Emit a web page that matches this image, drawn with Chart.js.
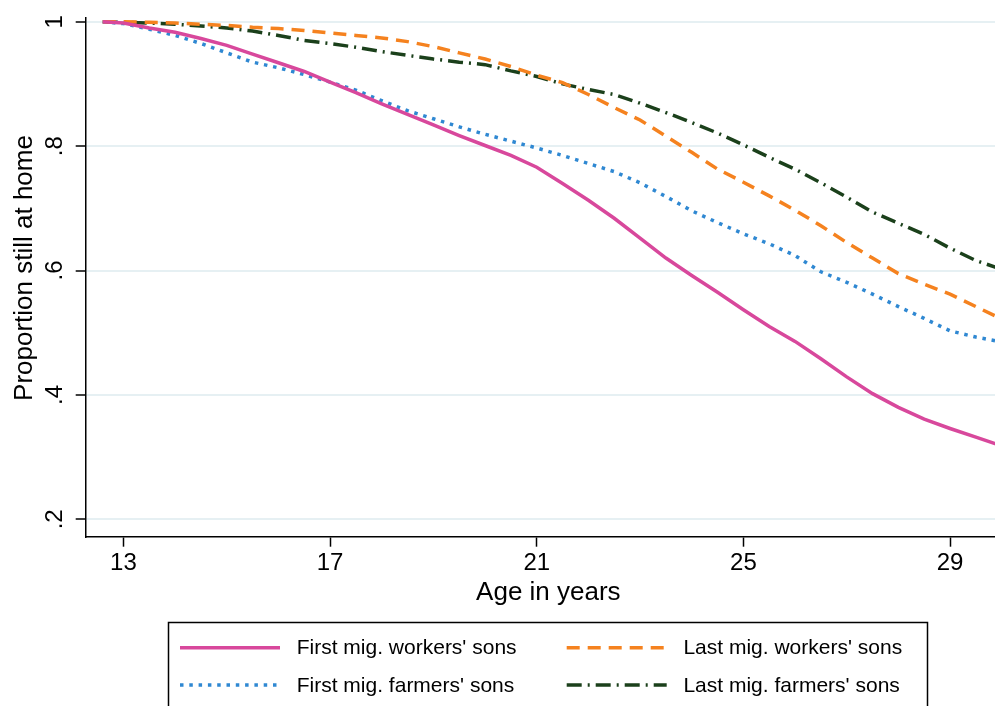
<!DOCTYPE html>
<html>
<head>
<meta charset="utf-8">
<title>Proportion still at home</title>
<script src="https://cdn.jsdelivr.net/npm/chart.js@4.4.1/dist/chart.umd.min.js"></script>
<style>
  html, body { margin: 0; padding: 0; background: #fff; overflow: hidden; }
  #marco { width: 1020px; height: 706px; }
</style>
</head>
<body>
<div id="marco"><canvas id="grafico"></canvas></div>
<script>
const ages = [12.6, 13, 13.5, 14, 14.5, 15, 15.5, 16, 16.5, 17, 17.5, 18, 18.5, 19, 19.5, 20, 20.5, 21,
  21.5, 22, 22.5, 23, 23.5, 24, 24.5, 25, 25.5, 26, 26.5, 27, 27.5, 28, 28.5, 29, 29.5, 30];

const firstWorkers = [1.000, 0.998, 0.990, 0.983, 0.973, 0.962, 0.948, 0.934, 0.920, 0.903, 0.886, 0.868,
  0.851, 0.834, 0.817, 0.801, 0.785, 0.766, 0.740, 0.713, 0.684, 0.652, 0.620, 0.592, 0.565, 0.537,
  0.510, 0.486, 0.458, 0.429, 0.402, 0.380, 0.361, 0.346, 0.332, 0.318];

const lastWorkers = [1.000, 1.000, 0.999, 0.998, 0.996, 0.994, 0.991, 0.989, 0.986, 0.982, 0.978, 0.974,
  0.968, 0.960, 0.950, 0.940, 0.928, 0.914, 0.902, 0.883, 0.862, 0.842, 0.816, 0.790, 0.763, 0.742,
  0.720, 0.697, 0.672, 0.645, 0.620, 0.595, 0.578, 0.562, 0.542, 0.522];

const firstFarmers = [1.000, 0.997, 0.988, 0.978, 0.965, 0.950, 0.935, 0.926, 0.915, 0.903, 0.890, 0.873,
  0.857, 0.844, 0.831, 0.819, 0.808, 0.797, 0.785, 0.772, 0.759, 0.741, 0.719, 0.696, 0.677, 0.659,
  0.643, 0.624, 0.598, 0.581, 0.562, 0.542, 0.523, 0.503, 0.493, 0.485];

const lastFarmers = [1.000, 0.999, 0.998, 0.996, 0.993, 0.990, 0.985, 0.978, 0.970, 0.965, 0.959, 0.952,
  0.946, 0.940, 0.935, 0.931, 0.921, 0.912, 0.900, 0.891, 0.883, 0.869, 0.854, 0.838, 0.821, 0.802,
  0.782, 0.763, 0.741, 0.718, 0.694, 0.676, 0.658, 0.636, 0.616, 0.602];

const seriesNames = ["First mig. workers' sons", "Last mig. workers' sons",
  "First mig. farmers' sons", "Last mig. farmers' sons"];

const xTicks = [13, 17, 21, 25, 29];
const yTicks = [0.2, 0.4, 0.6, 0.8, 1];

const fuente = '"Liberation Sans", Arial, Helvetica, sans-serif';

function puntos(valores) {
  return ages.map((a, i) => ({ x: a, y: valores[i] }));
}

function etiquetaY(v) {
  // Stata style: 1, .8, .6 ...
  return v === 1 ? '1' : String(v).replace(/^0/, '');
}

// texts around the plot and the legend box, stata like
const textos = {
  id: 'textos',
  afterDraw(chart) {
    const ctx = chart.ctx;
    const area = chart.chartArea;
    const escalaY = chart.scales.y;
    ctx.save();
    ctx.fillStyle = '#000';
    ctx.textAlign = 'center';
    ctx.textBaseline = 'alphabetic';

    // y tick labels, rotated
    ctx.font = '24px ' + fuente;
    yTicks.forEach(v => {
      ctx.save();
      ctx.translate(61.5, escalaY.getPixelForValue(v));
      ctx.rotate(-Math.PI / 2);
      ctx.fillText(etiquetaY(v), 0, 0);
      ctx.restore();
    });

    // axis titles
    ctx.font = '26px ' + fuente;
    ctx.save();
    ctx.translate(32, 268);
    ctx.rotate(-Math.PI / 2);
    ctx.fillText('Proportion still at home', 0, 0);
    ctx.restore();
    ctx.fillText('Age in years', (area.left + area.right) / 2, 600);

    // legend
    ctx.strokeStyle = '#000';
    ctx.lineWidth = 1.5;
    ctx.strokeRect(168.5, 622.5, 759, 100);
    const columnas = [180, 566.7];
    const filas = [647.7, 685];
    ctx.font = '21px ' + fuente;
    ctx.textAlign = 'left';
    ctx.textBaseline = 'middle';
    chart.data.datasets.forEach((ds, i) => {
      const cx = columnas[i % 2];
      const cy = filas[Math.floor(i / 2)];
      ctx.save();
      ctx.strokeStyle = ds.borderColor;
      ctx.lineWidth = ds.borderWidth;
      ctx.setLineDash(ds.borderDash || []);
      ctx.beginPath();
      ctx.moveTo(cx, cy);
      ctx.lineTo(cx + 100, cy);
      ctx.stroke();
      ctx.restore();
      ctx.fillText(ds.label, cx + 116.7, cy + 1);
    });
    ctx.restore();
  }
};

const datasets = [
  { label: seriesNames[0], data: puntos(firstWorkers), borderColor: '#d8489c', borderWidth: 3.5 },
  { label: seriesNames[1], data: puntos(lastWorkers), borderColor: '#f5821f', borderWidth: 3.5, borderDash: [13, 8] },
  { label: seriesNames[2], data: puntos(firstFarmers), borderColor: '#2f88d2', borderWidth: 3.5, borderDash: [3.5, 5.8] },
  { label: seriesNames[3], data: puntos(lastFarmers), borderColor: '#1b401b', borderWidth: 3.5, borderDash: [15, 6, 2, 6] }
];
datasets.forEach(ds => {
  ds.pointRadius = 0;
  ds.tension = 0;
  ds.fill = false;
});

const config = {
  type: 'line',
  data: { datasets: datasets },
  options: {
    responsive: true,
    maintainAspectRatio: false,
    animation: false,
    devicePixelRatio: 1,
    layout: { padding: { left: 0, top: 18, right: 9, bottom: 0 } },
    plugins: {
      legend: { display: false },
      tooltip: { enabled: false }
    },
    scales: {
      x: {
        type: 'linear',
        min: 12.27,
        max: 30.18,
        afterBuildTicks: s => { s.ticks = xTicks.map(v => ({ value: v })); },
        afterFit: s => { s.height = 169.3; },
        grid: { drawOnChartArea: false, tickLength: 10, tickColor: '#000', tickWidth: 1.5 },
        border: { color: '#000', width: 1.5 },
        ticks: {
          color: '#000',
          font: { size: 24, family: fuente },
          padding: 2,
          maxRotation: 0,
          autoSkip: false,
          callback: v => String(v)
        }
      },
      y: {
        min: 0.172,
        max: 1.006,
        afterBuildTicks: s => { s.ticks = yTicks.map(v => ({ value: v })); },
        afterFit: s => { s.width = 85.7; },
        grid: { color: '#e6f0f3', lineWidth: 2, tickLength: 10, tickColor: '#000', tickWidth: 1.5 },
        border: { color: '#000', width: 1.5 },
        ticks: { display: false }
      }
    }
  },
  plugins: [textos]
};

const miGrafico = new Chart(document.getElementById('grafico'), config);
</script>
</body>
</html>
